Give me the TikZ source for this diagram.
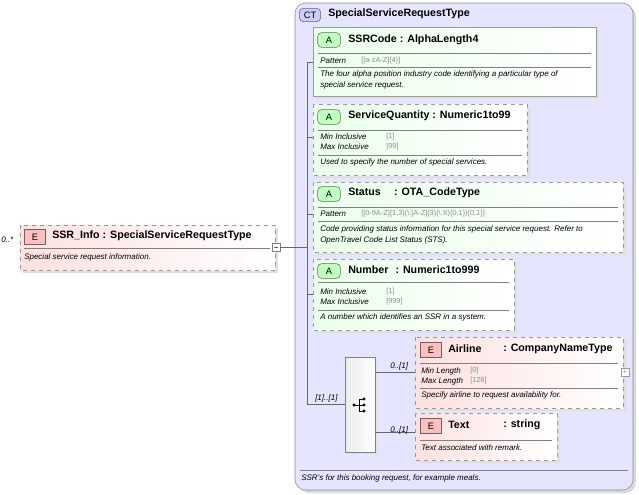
\documentclass[tikz,border=0pt]{standalone}
\usepackage{fontspec}
\setmainfont{Liberation Sans}
\begin{document}
\begin{tikzpicture}[x=0.75pt,y=-0.75pt,
  shadow/.style={fill=black!12,draw=none},
  attbox/.style={draw=black!40,dashed,left color=green!8,right color=white,shading angle=90},
  attsolid/.style={draw=black!40,left color=green!8,right color=white},
  elbox/.style={draw=black!40,dashed,left color=red!12,right color=white},
  badgeA/.style={draw=black!60,fill=green!25,rounded corners=3pt,minimum width=17pt,minimum height=11pt,inner sep=0pt,font=\fontsize{7}{8}\selectfont},
  badgeE/.style={draw=black!60,fill=red!25,minimum width=16pt,minimum height=11pt,inner sep=0pt,font=\fontsize{7}{8}\selectfont},
  title/.style={anchor=west,font=\bfseries\fontsize{8}{9}\selectfont,inner sep=0pt},
  small/.style={anchor=west,font=\itshape\fontsize{6}{7}\selectfont,inner sep=0pt},
  val/.style={anchor=west,font=\fontsize{5.5}{6.5}\selectfont,text=black!45,inner sep=0pt},
  sep/.style={draw=black!50},
  conn/.style={draw=black!60}]
\useasboundingbox (0,0) rectangle (639,494);
% CT box
\fill[black!15,rounded corners=8pt] (298,6) rectangle (636,493);
\draw[black!45,fill=blue!10,rounded corners=8pt] (295,3) rectangle (633,490);
\node[draw=black!60,fill=blue!20,rounded corners=3pt,minimum width=16pt,minimum height=10pt,inner sep=0pt,font=\fontsize{7}{8}\selectfont] (ct) at (310,15) {CT};
\node[title] (ctt) at (328,14) {SpecialServiceRequestType};
\draw[sep] (300,470) -- (628,470);
\node[small] (ctd) at (301,478) {SSR's for this booking request, for example meals.};

% SSR_Info
\fill[shadow] (23,228) rectangle (278,273);
\draw[elbox] (20,225) rectangle (275,270);
\node[badgeE] (e0) at (35,237) {E};
\node[title] (t0) at (52,236) {SSR\_Info : SpecialServiceRequestType};
\draw[sep] (24,248) -- (270,248);
\node[small] (d0) at (24,257) {Special service request information.};
\node[small] (m0) at (1,240) {0..*};
\node[draw=black!50,fill=white,minimum size=6pt,inner sep=0pt] (minus) at (276,247) {};
\draw[black!60] (274,247) -- (278,247);

% trunk
\coordinate (j) at (307,247);
\draw[conn] (minus.east) -- (j);
\draw[conn] (307,62) -- (307,404);

% SSRCode
\fill[shadow] (316,30) rectangle (599,99);
\draw[attsolid] (313,27) rectangle (596,96);
\node[badgeA] (a1) at (329,40) {A};
\node[title] (t1) at (348,40) {SSRCode : AlphaLength4};
\draw[sep] (318,53) -- (591,53);
\node[small] (p1) at (320,61) {Pattern};
\node[val] (pv1) at (361,61) {[[a-zA-Z]\{4\}]};
\draw[sep] (318,67) -- (591,67);
\node[small] (d1) at (320,74) {The four alpha position industry code identifying a particular type of};
\node[small] (d1b) at (320,85) {special service request.};
\draw[conn] (307,62) -- (313,62);

% ServiceQuantity
\fill[shadow] (316,107) rectangle (530,178);
\draw[attbox] (313,104) rectangle (527,175);
\node[badgeA] (a2) at (329,117) {A};
\node[title] (t2) at (348,116) {ServiceQuantity : Numeric1to99};
\draw[sep] (318,130) -- (522,130);
\node[small] (p2) at (320,137) {Min Inclusive};
\node[val] (pv2) at (386,137) {[1]};
\node[small] (p2b) at (320,147) {Max Inclusive};
\node[val] (pv2b) at (386,147) {[99]};
\draw[sep] (318,155) -- (522,155);
\node[small] (d2) at (320,162) {Used to specify the number of special services.};
\draw[conn] (307,137) -- (313,137);

% Status
\fill[shadow] (316,185) rectangle (626,255);
\draw[attbox] (313,182) rectangle (623,252);
\node[badgeA] (a3) at (329,194) {A};
\node[title] (t3) at (348,193) {Status\hspace{10pt}: OTA\_CodeType};
\draw[sep] (318,207) -- (618,207);
\node[small] (p3) at (320,214) {Pattern};
\node[val] (pv3) at (361,214) {[[0-9A-Z]\{1,3\}(\textbackslash.[A-Z]\{3\}(\textbackslash.X)\{0,1\})\{0,1\}]};
\draw[sep] (318,221) -- (618,221);
\node[small] (d3) at (320,229) {Code providing status information for this special service request. Refer to};
\node[small] (d3b) at (320,240) {OpenTravel Code List Status (STS).};
\draw[conn] (307,214) -- (313,214);

% Number
\fill[shadow] (316,262) rectangle (517,333);
\draw[attbox] (313,259) rectangle (514,330);
\node[badgeA] (a4) at (329,271) {A};
\node[title] (t4) at (348,270) {Number\hspace{3pt} : Numeric1to999};
\draw[sep] (318,282) -- (509,282);
\node[small] (p4) at (320,292) {Min Inclusive};
\node[val] (pv4) at (386,292) {[1]};
\node[small] (p4b) at (320,302) {Max Inclusive};
\node[val] (pv4b) at (386,302) {[999]};
\draw[sep] (318,310) -- (509,310);
\node[small] (d4) at (320,317) {A number which identifies an SSR in a system.};
\draw[conn] (307,294) -- (313,294);

% Sequence
\fill[shadow] (347,359) rectangle (377,454);
\node[draw=black!50,left color=black!8,right color=white,minimum width=22.5pt,minimum height=71.25pt,inner sep=0pt] (seq) at (360,404.5) {};
\begin{scope}[shift={(360,405)}]
\fill (-6,0) circle (1.6);
\draw (-6,0) -- (-1,0) (-1,-6) -- (-1,6) (-1,-6) -- (4,-6) (-1,0) -- (4,0) (-1,6) -- (4,6);
\fill (4,-6) circle (1.6) (4,0) circle (1.6) (4,6) circle (1.6);
\end{scope}
\draw[conn] (307,404) -- (seq.west |- 0,404);
\node[small] (m5) at (315,398) {[1]..[1]};

% Airline
\fill[shadow] (418,340) rectangle (626,411);
\draw[elbox] (415,337) rectangle (623,408);
\node[badgeE] (e6) at (431,350) {E};
\node[title] (t6) at (448,349) {Airline};
\node[title] (t6b) at (503,349) {: CompanyNameType};
\draw[sep] (420,363) -- (618,363);
\node[small] (p6) at (421,371) {Min Length};
\node[val] (pv6) at (470,371) {[0]};
\node[small] (p6b) at (421,381) {Max Length};
\node[val] (pv6b) at (470,381) {[128]};
\draw[sep] (420,388) -- (618,388);
\node[small] (d6) at (421,395) {Specify airline to request availability for.};
\node[draw=black!40,fill=white,minimum size=6pt,inner sep=0pt,text=black!40,font=\fontsize{6}{6}\selectfont] (plus) at (625,372) {+};
\draw[conn] (375,372) -- (415,372);
\node[small] (m6) at (390,366) {0..[1]};

% Text
\fill[shadow] (418,416) rectangle (560,463);
\draw[elbox] (415,413) rectangle (557,460);
\node[badgeE] (e7) at (431,426) {E};
\node[title] (t7) at (448,425) {Text};
\node[title] (t7b) at (503,425) {: string};
\draw[sep] (420,440) -- (552,440);
\node[small] (d7) at (421,448) {Text associated with remark.};
\draw[conn] (375,432) -- (415,432);
\node[small] (m7) at (390,430) {0..[1]};
\end{tikzpicture}
\end{document}
